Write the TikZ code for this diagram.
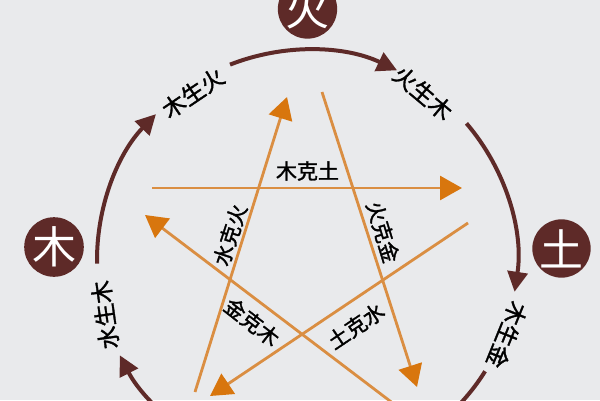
\documentclass[tikz,border=0pt]{standalone}
\usepackage{fontspec}
\newfontfamily\cjkfont{Noto Sans CJK SC}
\newfontfamily\cjklabel[FakeBold=1.5]{Noto Sans CJK SC}
\usepackage{xcolor}
\usepackage{tikz}
\usetikzlibrary{positioning}
\usetikzlibrary{arrows.meta}
\usetikzlibrary{shapes}

\definecolor{bgGray}{HTML}{E9EAEC}
\definecolor{elementRed}{HTML}{5E2A28}
\definecolor{keOrange}{HTML}{DA8E42}
\definecolor{keTip}{HTML}{D8760E}

\begin{document}
\begin{tikzpicture}[
		shengArrow/.style = { draw = elementRed, line width = 4pt, -{Triangle[length=20pt, width=20pt]} },
		shengLine/.style = { draw = elementRed, line width = 4pt },
		keArrow/.style = { draw = keOrange, line width = 2.8pt, -{Triangle[length=22pt, width=24pt, color=keTip]} },
		element/.style = { circle, fill = elementRed, text = white, minimum size = 58pt, inner sep = 0pt, outer sep = 0pt, font = \cjkfont\fontsize{44}{44}\selectfont },
		shengText/.style = { font = \cjklabel\fontsize{23}{23}\selectfont, inner sep = 0pt, outer sep = 0pt, text = black },
		keText/.style = { font = \cjklabel\fontsize{21}{21}\selectfont, inner sep = 0pt, outer sep = 0pt, text = black },
		]
	\def\oneUnit{10pt}
	
	\fill[bgGray] (0,0) rectangle (60*\oneUnit, 40*\oneUnit);
	\useasboundingbox (0,0) rectangle (60*\oneUnit, 40*\oneUnit);
	\clip (0,0) rectangle (60*\oneUnit, 40*\oneUnit);
	
	\coordinate (O) at (30.7*\oneUnit, 14*\oneUnit);
	
	\node[element] (HUO) at (30.75*\oneUnit, 39.1*\oneUnit) {火};
	\node[element] (MU) at (5.4*\oneUnit, 15.3*\oneUnit) {木};
	\node[element] (TU) at (56.15*\oneUnit, 15.15*\oneUnit) {土};
	
	
	
	\coordinate (MUSHENGstart) at ([shift={(O)}]181:21*\oneUnit);
	\coordinate (HUOSHENGstart) at ([shift={(O)}]111.5:21*\oneUnit);
	\coordinate (TUSHENGstart) at ([shift={(O)}]40.6:21*\oneUnit);
	\coordinate (JINSHENGstart) at ([shift={(O)}]-32:21*\oneUnit);
	\coordinate (SHUISHENGstart) at ([shift={(O)}]240:21*\oneUnit);
	
	\draw[shengArrow] (MUSHENGstart) arc[start angle=181, end angle=136, radius=21*\oneUnit];
	\draw[shengArrow] (HUOSHENGstart) arc[start angle=111.5, end angle=64.6, radius=21*\oneUnit];
	\draw[shengArrow] (TUSHENGstart) arc[start angle=40.6, end angle=-8.7, radius=21*\oneUnit];
	\draw[shengLine] (JINSHENGstart) arc[start angle=-32, end angle=-70, radius=21*\oneUnit];
	\draw[shengArrow] (SHUISHENGstart) arc[start angle=240, end angle=207, radius=21*\oneUnit];
	
	\node[shengText, rotate=34] (MUSHENGHUO) at (19.3*\oneUnit, 30.7*\oneUnit) {木生火};
	\node[shengText, rotate=-40] (HUOSHENGMU) at (42.3*\oneUnit, 30.7*\oneUnit) {火生木};
	\node[shengText, rotate=-112] (MUSHENGJIN) at (50.7*\oneUnit, 6.5*\oneUnit) {木生金};
	\node[shengText, rotate=98] (SHUISHENGMU) at (10.5*\oneUnit, 8.5*\oneUnit) {水生木};
	
	
	
	\coordinate (MUKEstart) at (15.2*\oneUnit, 21.2*\oneUnit);
	\coordinate (MUKEend) at (46.2*\oneUnit, 21.2*\oneUnit);
	\coordinate (SHUIKEstart) at (19.5*\oneUnit, 0.8*\oneUnit);
	\coordinate (SHUIKEend) at (28.7*\oneUnit, 30.3*\oneUnit);
	\coordinate (HUOKEstart) at (32.2*\oneUnit, 30.8*\oneUnit);
	\coordinate (HUOKEend) at (41.7*\oneUnit, 1.3*\oneUnit);
	\coordinate (TUKEstart) at (46.8*\oneUnit, 17.7*\oneUnit);
	\coordinate (TUKEend) at (21.0*\oneUnit, 0.4*\oneUnit);
	\coordinate (JINKEstart) at (41.5*\oneUnit, -2.0*\oneUnit);
	\coordinate (JINKEend) at (14.5*\oneUnit, 18.5*\oneUnit);
	
	\draw[keArrow] (MUKEstart) -- (MUKEend);
	\draw[keArrow] (SHUIKEstart) -- (SHUIKEend);
	\draw[keArrow] (HUOKEstart) -- (HUOKEend);
	\draw[keArrow] (TUKEstart) -- (TUKEend);
	\draw[keArrow] (JINKEstart) -- (JINKEend);
	
	\node[keText] (MUKETU) at (30.75*\oneUnit, 22.9*\oneUnit) {木克土};
	\node[keText, rotate=72] (SHUIKEHUO) at (23.0*\oneUnit, 16.5*\oneUnit) {水克火};
	\node[keText, rotate=-73] (HUOKEJIN) at (38.3*\oneUnit, 16.8*\oneUnit) {火克金};
	\node[keText, rotate=34] (TUKESHUI) at (35.6*\oneUnit, 7.4*\oneUnit) {土克水};
	\node[keText, rotate=-38] (JINKEMU) at (25.2*\oneUnit, 7.8*\oneUnit) {金克木};
\end{tikzpicture}
\end{document}
